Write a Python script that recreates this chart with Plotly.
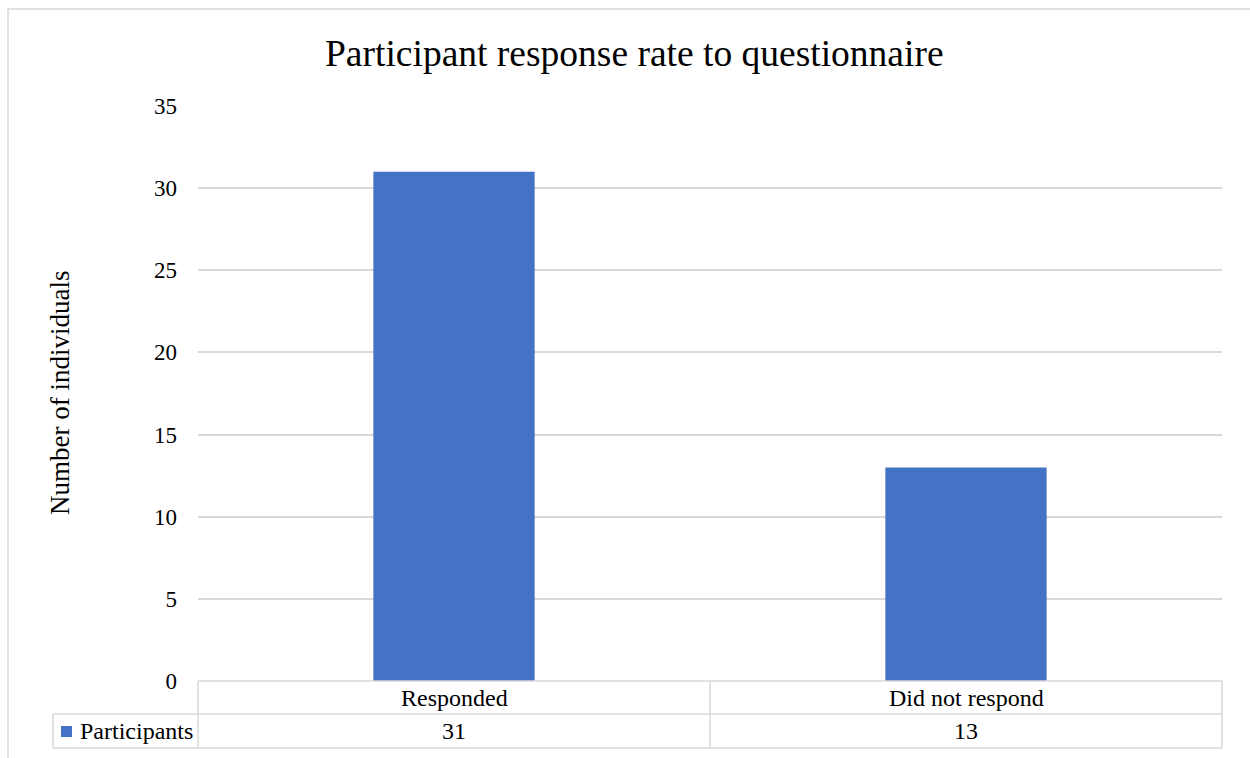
import plotly.graph_objects as go

# Chart data
categories = ["Responded", "Did not respond"]
participants = [31, 13]
series_name = "Participants"
y_ticks = [0, 5, 10, 15, 20, 25, 30, 35]

W, H = 1250, 758
FONT = "Liberation Serif"
GRID = "#d9d9d9"
BAR = "#4472C4"


def px(x):
    return x / W


def py(y):
    return 1 - y / H


# Plot area in pixels
PL, PR, PT, PB = 198, 1222, 106, 681
ROW1, ROW2 = 714, 748
LEG_L = 53
TABLE_SIZE = 24

fig = go.Figure()
fig.add_trace(go.Bar(
    x=list(range(len(categories))),
    y=participants,
    width=0.315,
    marker=dict(color=BAR, line=dict(width=0)),
    name=series_name,
    showlegend=False,
))

fig.update_layout(
    width=W, height=H,
    autosize=False,
    margin=dict(l=0, r=0, t=0, b=0, pad=0),
    paper_bgcolor="white",
    plot_bgcolor="white",
    font=dict(family=FONT, size=23, color="#000000"),
    xaxis=dict(
        domain=[px(PL), px(PR)],
        range=[-0.5, len(categories) - 0.5],
        showticklabels=False, showgrid=False, zeroline=False, showline=False,
        automargin=False,
    ),
    yaxis=dict(
        domain=[py(PB), py(PT)],
        range=[0, 35],
        tickvals=y_ticks,
        ticktext=[str(v) for v in y_ticks],
        showgrid=True, gridcolor=GRID, gridwidth=1.5,
        zeroline=False, showline=False,
        ticks="", ticklabelstandoff=20,
        automargin=False,
        tickfont=dict(family=FONT, size=23, color="#000000"),
    ),
)

shapes = []
line = dict(color=GRID, width=1.5)

# Outer chart border
shapes.append(dict(type="rect", xref="paper", yref="paper",
                   x0=px(8), x1=px(W + 20), y0=py(H + 20), y1=py(9),
                   line=dict(color=GRID, width=1.5), fillcolor="rgba(0,0,0,0)"))

# Data table grid
ncat = len(categories)
col_w = (PR - PL) / ncat
for yy, x0 in [(PB, PL), (ROW1, LEG_L), (ROW2, LEG_L)]:
    shapes.append(dict(type="line", xref="paper", yref="paper",
                       x0=px(x0), x1=px(PR), y0=py(yy), y1=py(yy), line=line))
shapes.append(dict(type="line", xref="paper", yref="paper",
                   x0=px(LEG_L), x1=px(LEG_L), y0=py(ROW1), y1=py(ROW2), line=line))
for i in range(ncat + 1):
    xx = PL + i * col_w
    shapes.append(dict(type="line", xref="paper", yref="paper",
                       x0=px(xx), x1=px(xx), y0=py(PB), y1=py(ROW2), line=line))

# Legend key square
shapes.append(dict(type="rect", xref="paper", yref="paper",
                   x0=px(61), x1=px(72), y0=py(737), y1=py(726),
                   line=dict(width=0), fillcolor=BAR))
fig.update_layout(shapes=shapes)

annotations = []
# Title
annotations.append(dict(text="Participant response rate to questionnaire",
                        xref="paper", yref="paper", x=px(634), y=py(53),
                        xanchor="center", yanchor="middle", showarrow=False,
                        font=dict(family=FONT, size=37.5, color="#000000")))
# Y-axis title
annotations.append(dict(text="Number of individuals",
                        xref="paper", yref="paper", x=px(60), y=py(393),
                        xanchor="center", yanchor="middle", showarrow=False,
                        textangle=-90,
                        font=dict(family=FONT, size=27, color="#000000")))
# Table text
for i, (cat, val) in enumerate(zip(categories, participants)):
    cx = PL + (i + 0.5) * col_w
    annotations.append(dict(text=cat, xref="paper", yref="paper",
                            x=px(cx), y=py((PB + ROW1) / 2),
                            xanchor="center", yanchor="middle", showarrow=False,
                            font=dict(family=FONT, size=TABLE_SIZE, color="#000000")))
    annotations.append(dict(text=str(val), xref="paper", yref="paper",
                            x=px(cx), y=py((ROW1 + ROW2) / 2),
                            xanchor="center", yanchor="middle", showarrow=False,
                            font=dict(family=FONT, size=TABLE_SIZE, color="#000000")))
annotations.append(dict(text=series_name, xref="paper", yref="paper",
                        x=px(78), y=py((ROW1 + ROW2) / 2),
                        xanchor="left", yanchor="middle", showarrow=False,
                        font=dict(family=FONT, size=TABLE_SIZE, color="#000000")))
fig.update_layout(annotations=annotations)

fig.write_html("out.html")
